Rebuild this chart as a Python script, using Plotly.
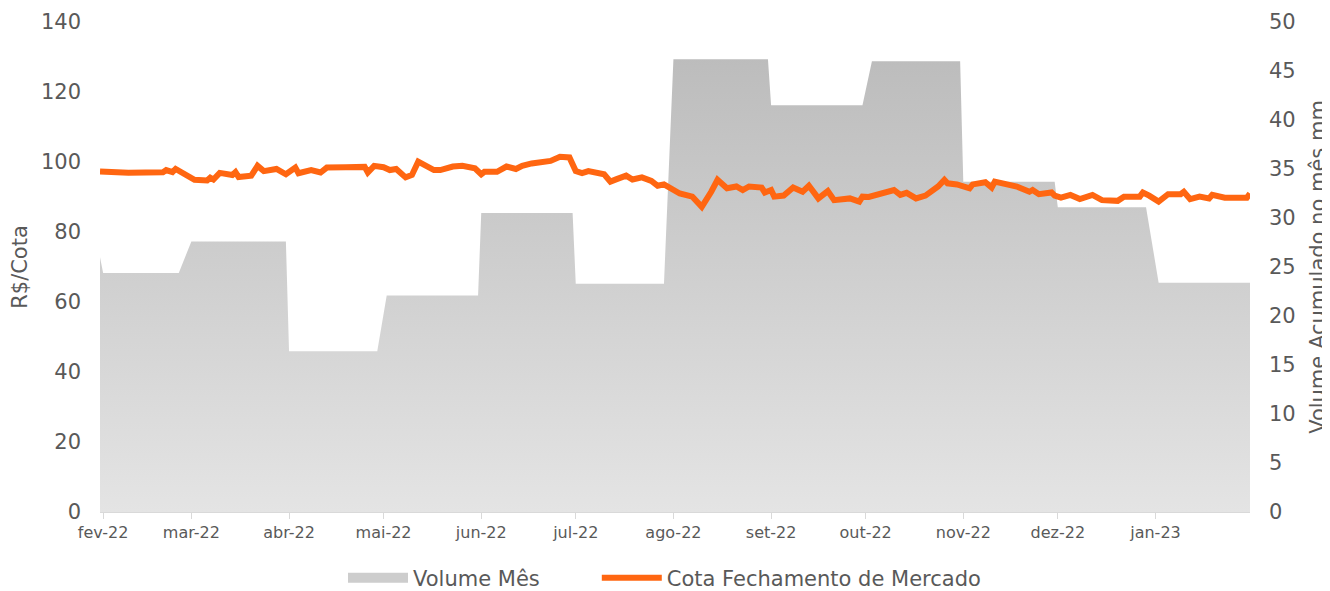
import plotly.graph_objects as go

# ---- Data ----
month_ticks = ["2022-02-01", "2022-03-01", "2022-04-01", "2022-05-01", "2022-06-01", "2022-07-01",
               "2022-08-01", "2022-09-01", "2022-10-01", "2022-11-01", "2022-12-01", "2023-01-01"]
month_labels = ["fev-22", "mar-22", "abr-22", "mai-22", "jun-22", "jul-22",
                "ago-22", "set-22", "out-22", "nov-22", "dez-22", "jan-23"]

# monthly accumulated volume (R$ mm): first and last trading day of each month
vol_first = ["2022-01-31", "2022-02-01", "2022-03-01", "2022-04-01", "2022-05-02", "2022-06-01", "2022-07-01",
             "2022-08-01", "2022-09-01", "2022-10-03", "2022-11-01", "2022-12-01", "2023-01-02"]
vol_last = ["2022-01-31", "2022-02-25", "2022-03-31", "2022-04-29", "2022-05-31", "2022-06-30", "2022-07-29",
            "2022-08-31", "2022-09-30", "2022-10-31", "2022-11-30", "2022-12-29", "2023-01-31"]
vol_values = [26.0, 24.4, 27.6, 16.4, 22.1, 30.5, 23.3, 46.2, 41.5, 46.0, 33.7, 31.1, 23.4]

price_dates = [
    "2022-01-31", "2022-02-09", "2022-02-20", "2022-02-21", "2022-02-23", "2022-02-24",
    "2022-03-02", "2022-03-06", "2022-03-07", "2022-03-08", "2022-03-10", "2022-03-14", "2022-03-15",
    "2022-03-16", "2022-03-20", "2022-03-22", "2022-03-24", "2022-03-28", "2022-03-31",
    "2022-04-03", "2022-04-04", "2022-04-08", "2022-04-11", "2022-04-13", "2022-04-19", "2022-04-25",
    "2022-04-26", "2022-04-28",
    "2022-05-01", "2022-05-03", "2022-05-05", "2022-05-08", "2022-05-10", "2022-05-12", "2022-05-17",
    "2022-05-19", "2022-05-23", "2022-05-26", "2022-05-30",
    "2022-06-01", "2022-06-02", "2022-06-06", "2022-06-09", "2022-06-12", "2022-06-14", "2022-06-17",
    "2022-06-23", "2022-06-26", "2022-06-29",
    "2022-07-01", "2022-07-03", "2022-07-05", "2022-07-10", "2022-07-12", "2022-07-14", "2022-07-17",
    "2022-07-19", "2022-07-22", "2022-07-25", "2022-07-27", "2022-07-29",
    "2022-08-02", "2022-08-03", "2022-08-07", "2022-08-10", "2022-08-13", "2022-08-15", "2022-08-18",
    "2022-08-21", "2022-08-23", "2022-08-25", "2022-08-29", "2022-08-30",
    "2022-09-01", "2022-09-02", "2022-09-05", "2022-09-08", "2022-09-11", "2022-09-13", "2022-09-16",
    "2022-09-19", "2022-09-21", "2022-09-26", "2022-09-29", "2022-09-30",
    "2022-10-02", "2022-10-06", "2022-10-10", "2022-10-12", "2022-10-14", "2022-10-17", "2022-10-20",
    "2022-10-24", "2022-10-26", "2022-10-27", "2022-10-30",
    "2022-11-03", "2022-11-04", "2022-11-08", "2022-11-10", "2022-11-11", "2022-11-16", "2022-11-18",
    "2022-11-22", "2022-11-23", "2022-11-25", "2022-11-29", "2022-11-30",
    "2022-12-02", "2022-12-05", "2022-12-08", "2022-12-12", "2022-12-15", "2022-12-20", "2022-12-22",
    "2022-12-27", "2022-12-28", "2022-12-30",
    "2023-01-02", "2023-01-05", "2023-01-09", "2023-01-10", "2023-01-12", "2023-01-15", "2023-01-18",
    "2023-01-19", "2023-01-23", "2023-01-30", "2023-01-31"]
price_values = [
    97.3, 96.9, 97.1, 97.7, 97.1, 98.0,
    94.9, 94.7, 95.5, 95.0, 96.9, 96.3, 97.1, 95.7, 96.1, 98.9, 97.4, 98.0, 96.5,
    98.4, 96.8, 97.7, 97.0, 98.4, 98.5, 98.6, 97.0, 98.9,
    98.5, 97.7, 98.0, 95.6, 96.3, 100.1, 97.7, 97.7, 98.7, 98.9, 98.2,
    96.5, 97.2, 97.2, 98.7, 98.0, 98.9, 99.6, 100.3, 101.5, 101.3,
    97.4, 96.8, 97.4, 96.5, 94.4, 95.1, 96.1, 95.0, 95.6, 94.6, 93.2, 93.6,
    91.5, 91.0, 90.1, 87.2, 91.5, 94.9, 92.5, 93.0, 92.0, 93.0, 92.7, 91.3,
    92.0, 90.1, 90.4, 92.7, 91.5, 93.2, 89.6, 91.7, 89.1, 89.6, 88.7, 90.1,
    90.0, 90.8, 92.0, 90.6, 91.2, 89.6, 90.4, 93.0, 94.9, 93.9, 93.6,
    92.5, 93.6, 94.2, 92.7, 94.4, 93.7, 93.0, 91.5, 92.0, 90.8, 91.3, 90.4,
    89.8, 90.6, 89.4, 90.6, 89.1, 88.9, 90.1, 90.1, 91.3, 90.4,
    88.7, 90.8, 90.8, 91.5, 89.4, 90.1, 89.6, 90.6, 89.8, 89.8, 91.0]

# build stepped volume path from the monthly table
vol_x, vol_y = [], []
for f, l, v in zip(vol_first, vol_last, vol_values):
    vol_x += [f, l]
    vol_y += [v, v]

FONT = "DejaVu Sans, Verdana, sans-serif"
TXT = "#595959"
FS = 21

fig = go.Figure()
# area (legend entry supplied by a legend-only swatch below)
fig.add_trace(go.Scatter(
    x=vol_x, y=vol_y, name="Volume Mês", mode="lines",
    line=dict(width=0, color="#c8c8c8"),
    fill="tozeroy",
    fillgradient=dict(type="vertical", colorscale=[[0, "#e4e4e4"], [1, "#b9b9b9"]], start=0, stop=50),
    yaxis="y", hoverinfo="skip", showlegend=False, legendgroup="vol"))
fig.add_trace(go.Scatter(
    x=[None], y=[None], name="Volume Mês", mode="lines",
    line=dict(width=14, color="#cdcdcd"), yaxis="y", legendgroup="vol", hoverinfo="skip",
    legend="legend"))
fig.add_trace(go.Scatter(
    x=price_dates, y=price_values, name="Cota Fechamento de Mercado", mode="lines",
    line=dict(width=6, color="#FF6611"), yaxis="y2", legend="legend2"))

leg_common = dict(orientation="h", xanchor="left", y=-0.135, yanchor="middle",
                  font=dict(size=FS, color=TXT), itemwidth=60, bgcolor="rgba(0,0,0,0)")

# page body has an 8px default margin, so the figure is 8px smaller and offset
fig.update_layout(
    width=1322, height=583,
    margin=dict(l=92, r=80, t=14, b=79, autoexpand=False),
    paper_bgcolor="white", plot_bgcolor="white",
    font=dict(family=FONT, size=FS, color=TXT),
    showlegend=True,
    legend=dict(x=0.2113, **leg_common),
    legend2=dict(x=0.432, **leg_common),
    xaxis=dict(type="date", range=["2022-01-31", "2023-01-31"],
               tickvals=month_ticks, ticktext=month_labels,
               tickfont=dict(size=16, color=TXT),
               showline=True, linecolor="#d9d9d9", linewidth=1,
               ticks="outside", ticklen=6, tickcolor="#d9d9d9",
               showgrid=False, zeroline=False, automargin=False),
    yaxis=dict(side="right", range=[0, 50], dtick=5,
               title=dict(text="Volume Acumulado no mês mm", standoff=25, font=dict(size=FS, color=TXT)),
               tickfont=dict(size=FS, color=TXT), ticklabelstandoff=18,
               showgrid=False, zeroline=False, showline=False, automargin=False),
    yaxis2=dict(side="left", overlaying="y", range=[0, 140], dtick=20,
                title=dict(text="R$/Cota", standoff=10, font=dict(size=FS, color=TXT)),
                tickfont=dict(size=FS, color=TXT), ticklabelstandoff=18,
                showgrid=False, zeroline=False, showline=False, automargin=False),
)

fig.write_html("out.html")
